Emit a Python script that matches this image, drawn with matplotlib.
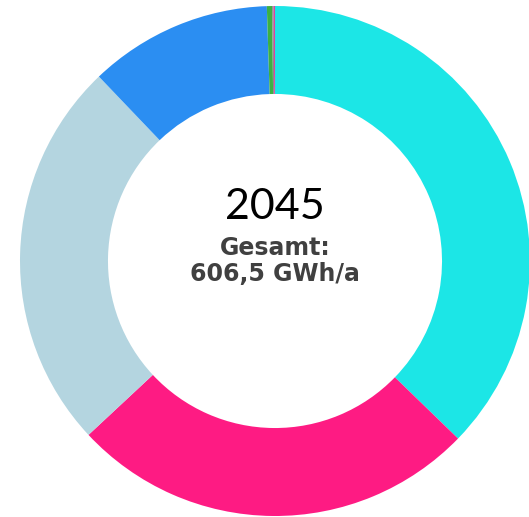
import numpy as np
import matplotlib.pyplot as plt

# Energiemix 2045 (GWh/a)
labels = ['Cyan', 'Pink', 'Hellblau', 'Blau', 'Gruen', 'Grau', 'Magenta']
values = [226.0, 156.5, 150.5, 70.5, 2.0, 0.6, 0.5]
colors = ['#1ce6e6', '#fe1b83', '#b4d5e0', '#2b8ef2', '#3cb043', '#8a8a8a', '#e040a0']

year = '2045'
total_label = 'Gesamt:\n606,5 GWh/a'

W, H = 529, 517
fig = plt.figure(figsize=(W / 100, H / 100), dpi=100)
ax = fig.add_axes([20 / W, 1 / H, 510 / W, 510 / H])

ax.pie(values, colors=colors, startangle=90, counterclock=False, radius=1.0,
       wedgeprops=dict(width=0.345, edgecolor='none', linewidth=0))
ax.set_xlim(-1, 1)
ax.set_ylim(-1, 1)
ax.set_aspect('equal')
ax.axis('off')

ax.text(0, 0.212, year, ha='center', va='center', fontsize=31,
        family='Lato', color='black')
ax.text(0, 0.0, total_label, ha='center', va='center', fontsize=17,
        fontweight='bold', color='#404040', linespacing=1.1)

fig.savefig('out.png', dpi=100)
